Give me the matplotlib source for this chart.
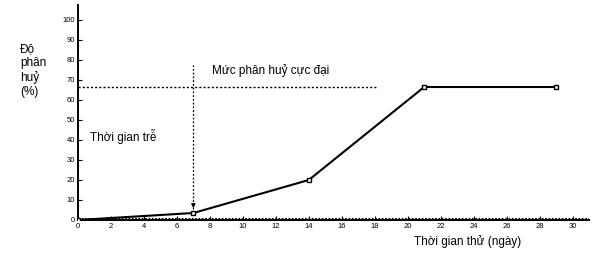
import matplotlib
matplotlib.use("Agg")
import matplotlib.pyplot as plt

# Data
days = [0, 7, 14, 21, 29]
degradation = [0, 3.5, 20, 66.5, 66.5]
plateau_level = 66.5
plateau_end = 18.1
lag_day = 7
lag_top = 77.5
x_ticks = list(range(0, 31, 2))
y_ticks = list(range(0, 101, 10))

plt.rcParams['font.family'] = ['Liberation Sans', 'DejaVu Sans']

fig = plt.figure(figsize=(6.01, 2.61), dpi=100)
ax = fig.add_axes([78 / 601, 41 / 261, 511 / 601, 215 / 261])
ax.set_xlim(0, 31)
ax.set_ylim(0, 107.5)

# Main curve
ax.plot(days, degradation, color='black', lw=1.5, marker='s', ms=3,
        mfc='white', mec='black', mew=1, zorder=3)

# Reference lines
ax.plot([0, plateau_end], [plateau_level, plateau_level], color='black',
        lw=1, ls=(0, (1.5, 1.5)))
ax.plot([lag_day, lag_day], [degradation[1] + 2, lag_top], color='black',
        lw=0.9, ls=(0, (1.5, 1.5)))
ax.annotate('', xy=(lag_day, degradation[1] + 1), xytext=(lag_day, degradation[1] + 6),
            arrowprops=dict(arrowstyle='-|>', color='black', lw=0.8, mutation_scale=6))
ax.plot([0, 31], [0.8, 0.8], color='black', lw=0.8, ls=(0, (1.5, 1.5)))

# Axes styling
for side in ['top', 'right']:
    ax.spines[side].set_visible(False)
ax.spines['left'].set_linewidth(1.4)
ax.spines['bottom'].set_linewidth(1.4)
ax.set_xticks(x_ticks)
ax.set_yticks(y_ticks)
ax.tick_params(direction='in', length=3, width=0.8, labelsize=5.5, pad=2)

# Texts
fig.text(20 / 601, 1 - 43 / 261, 'Độ\nphân\nhuỷ\n(%)', fontsize=8.5,
         va='top', ha='left', linespacing=1.2)
ax.text(8.1, 74.5, 'Mức phân huỷ cực đại', fontsize=8.5, va='center', ha='left')
ax.text(0.75, 42, 'Thời gian trễ', fontsize=8.5, va='center', ha='left')
fig.text(414 / 601, 1 - 242 / 261, 'Thời gian thử (ngày)', fontsize=8.5,
         va='center', ha='left')

fig.savefig('out.png', dpi=100)
